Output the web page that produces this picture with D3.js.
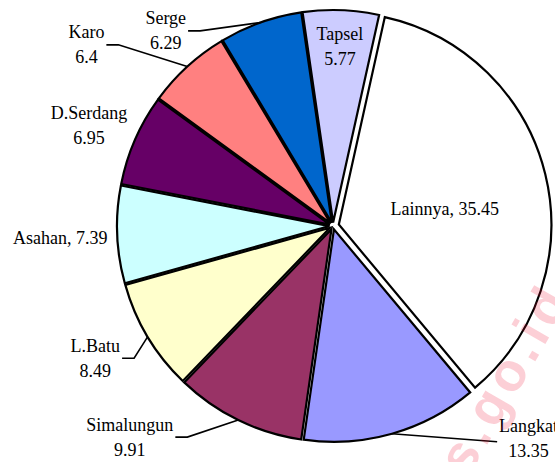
<!DOCTYPE html>
<html>
<head>
<meta charset="utf-8">
<script src="https://cdn.jsdelivr.net/npm/d3@7"></script>
<style>
  body { margin: 0; background: #fff; }
  svg { display: block; }
  .lbl { font: 18px 'Liberation Serif', 'Times New Roman', serif; fill: #000; }
</style>
</head>
<body>
<div id="chart"></div>
<script>
// data (percent share)
var names = ['Lainnya', 'Langkat', 'Simalungun', 'L.Batu', 'Asahan', 'D.Serdang', 'Karo', 'Serge', 'Tapsel'];
var values = [35.45, 13.35, 9.91, 8.49, 7.39, 6.95, 6.4, 6.29, 5.77];
var valueLabels = ['35.45', '13.35', '9.91', '8.49', '7.39', '6.95', '6.4', '6.29', '5.77'];
var colors = ['#FFFFFF', '#9999FF', '#993366', '#FFFFCC', '#CCFFFF', '#660066', '#FF8080', '#0066CC', '#CCCCFF'];

var width = 555, height = 462;
var cx = 333, cy = 226, radius = 212.5;
var firstAngle = 12.5;   // degrees, first slice start (clockwise from 12 o'clock)

// layout of labels: polar position of the label block (deg, px from centre)
var labelLayout = {
  'Lainnya':    {a: 81.4,  d: 113, oneLine: true,  leader: false},
  'Langkat':    {a: 137.4, d: 289, oneLine: false, leader: true},
  'Simalungun': {a: 223.9, d: 293, oneLine: false, leader: true},
  'L.Batu':     {a: 240.9, d: 272, oneLine: false, leader: true},
  'Asahan':     {a: 267.5, d: 273, oneLine: true,  leader: false},
  'D.Serdang':  {a: 292.4, d: 264, oneLine: false, leader: false},
  'Karo':       {a: 306.3, d: 306, oneLine: false, leader: true},
  'Serge':      {a: 319.4, d: 257, oneLine: false, leader: true},
  'Tapsel':     {a: 2.2,   d: 180, oneLine: false, leader: false}
};
function explode(name) { return name == 'Lainnya' ? 6 : 3.5; }

var rad = d => d * Math.PI / 180;

var svg = d3.select('#chart').append('svg')
    .attr('width', width)
    .attr('height', height);

var g = svg.append('g')
    .attr('transform', 'translate(' + cx + ',' + cy + ')');

var pie = d3.pie()
    .sort(null)
    .value(function(d) { return d.value; })
    .startAngle(rad(firstAngle))
    .endAngle(rad(firstAngle) + 2 * Math.PI);

var arc = d3.arc().innerRadius(0).outerRadius(radius);

var dataset = names.map(function(n, i) {
  return {name: n, value: values[i], label: valueLabels[i], color: colors[i]};
});
var arcs = pie(dataset);

function midAngle(d) { return (d.startAngle + d.endAngle) / 2; }
function shift(d) { return d3.pointRadial(midAngle(d), explode(d.data.name)); }

g.selectAll('path.slice')
  .data(arcs)
  .enter().append('path')
    .attr('class', 'slice')
    .attr('d', arc)
    .attr('transform', function(d) { let s = shift(d); return 'translate(' + s[0] + ',' + s[1] + ')'; })
    .style('fill', function(d) { return d.data.color; })
    .style('stroke', '#000')
    .style('stroke-width', 2.2)
    .style('stroke-linejoin', 'miter');

// labels
var labels = g.append('g');
arcs.forEach(function(d) {
  let lay = labelLayout[d.data.name];
  let p = d3.pointRadial(rad(lay.a), lay.d);
  let t = labels.append('text')
      .attr('class', 'lbl')
      .attr('text-anchor', 'middle');
  let w;
  if (lay.oneLine) {
    t.attr('x', p[0]).attr('y', p[1] + 6).text(d.data.name + ', ' + d.data.label);
    w = t.node().getComputedTextLength();
  } else {
    t.append('tspan').attr('x', p[0]).attr('y', p[1] - 6.5).text(d.data.name);
    t.append('tspan').attr('x', p[0]).attr('y', p[1] + 18.5).text(d.data.label);
    w = d3.max(t.selectAll('tspan').nodes(), n => n.getComputedTextLength());
  }
  if (lay.leader) {
    let s = shift(d);
    let e = d3.pointRadial(midAngle(d), radius);
    let end = [e[0] + s[0], e[1] + s[1]];
    let pts;
    if (p[0] < 0) {
      let x0 = p[0] + w / 2 + 2;
      pts = [[x0, p[1]], [x0 + 12, p[1]], end];
    } else {
      let x0 = p[0] - w / 2 - 2;
      pts = [[x0, p[1] + 3], end];
    }
    labels.append('path')
      .attr('d', d3.line()(pts))
      .style('fill', 'none')
      .style('stroke', '#000')
      .style('stroke-width', 1.6);
  }
});

// faint watermark in the bottom right corner
svg.append('text')
    .attr('transform', 'translate(468,478) rotate(-60)')
    .style('font', "bold 54px 'Liberation Sans', Arial, sans-serif")
    .style('letter-spacing', '5px')
    .style('fill', '#ee1133')
    .style('fill-opacity', 0.2)
    .text('s.go.id');
</script>
</body>
</html>
